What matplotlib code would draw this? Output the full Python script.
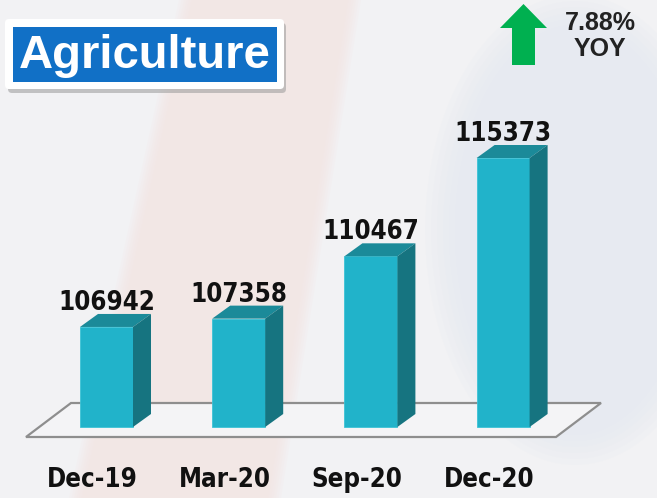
import numpy as np
import matplotlib
matplotlib.use("Agg")
import matplotlib.pyplot as plt
import matplotlib.patches as mpatches

categories = ["Dec-19", "Mar-20", "Sep-20", "Dec-20"]
values = [106942, 107358, 110467, 115373]
title = "Agriculture"
yoy_text = "7.88%\nYOY"

# axis floor implied by the bar heights
axis_floor = 101950
units_per_px = 49.9
px_per_cat = 132.2

front_col = "#21B3CA"
top_col = "#1B8A99"
side_col = "#167480"
bg_col = "#F2F2F4"

W, H = 657, 498
fig = plt.figure(figsize=(W / 100, H / 100), dpi=100, facecolor=bg_col)

# background / decoration layer in pixel coordinates
deco = fig.add_axes([0, 0, 1, 1], zorder=0)
deco.set_xlim(0, W)
deco.set_ylim(H, 0)
deco.axis("off")
deco.set_facecolor(bg_col)

# faint watermark shapes (layered for soft edges)
for k in range(6):
    g = 6 - k * 2.5
    deco.add_patch(mpatches.Polygon([(185 - g, 0), (355 + g, 0), (275 + g, H), (75 - g, H)],
                                    closed=True, fc="#F3E3E0", ec="none", alpha=0.15, zorder=0))
    deco.add_patch(mpatches.Ellipse((575, 230), 300 - k * 12, 470 - k * 12, fc="#E2E7F1",
                                    ec="none", alpha=0.13, zorder=0))

# title box
deco.add_patch(mpatches.FancyBboxPatch((8, 23), 278, 70, boxstyle="round,pad=0,rounding_size=4",
                                       fc="#9A9A9A", ec="none", alpha=0.55, zorder=1))
deco.add_patch(mpatches.FancyBboxPatch((5, 19), 279, 70, boxstyle="round,pad=0,rounding_size=4",
                                       fc="white", ec="none", zorder=2))
deco.add_patch(mpatches.Rectangle((13, 27), 264, 55, fc="#1170C6", ec="none", zorder=3))
deco.text(145, 56, title, color="white", fontsize=34, fontweight="bold",
          family="Liberation Sans", ha="center", va="center", zorder=4)

# green arrow
deco.add_patch(mpatches.Polygon([(512, 65), (535, 65), (535, 28), (547, 28), (523.5, 4),
                                 (500, 28), (512, 28)], closed=True, fc="#00B050", ec="none", zorder=2))
deco.text(600, 36, yoy_text, color="#222222", fontsize=18, fontweight="bold",
          family="Liberation Sans", ha="center", va="center", linespacing=1.1, zorder=2)

# data axes
ax = fig.add_axes([0, 0, 1, 1], zorder=1)
ax.patch.set_alpha(0)
ax.axis("off")
x0_px = 106.5
ax.set_xlim(-x0_px / px_per_cat, (W - x0_px) / px_per_cat)
base_px = 427
ax.set_ylim(axis_floor - (H - base_px) * units_per_px, axis_floor + base_px * units_per_px)

x = np.arange(len(categories))
w = 53 / px_per_cat
dx = 18 / px_per_cat
dy = 13 * units_per_px

# floor
fdx = 45 / px_per_cat
f_front = axis_floor - 10 * units_per_px
f_back = axis_floor + 24 * units_per_px
fl, fr = -80.5 / px_per_cat, 449.5 / px_per_cat
ax.add_patch(mpatches.Polygon([(fl, f_front), (fr, f_front), (fr + fdx, f_back), (fl + fdx, f_back)],
                              closed=True, fc="#F4F4F6", ec="#8E8E8E", lw=1.6, zorder=1))

ax.bar(x, np.array(values) - axis_floor, bottom=axis_floor, width=w, color=front_col,
       edgecolor="#3CC3D6", linewidth=0.6, zorder=3)
for xi, v in zip(x, values):
    l, r = xi - w / 2, xi + w / 2
    ax.add_patch(mpatches.Polygon([(l, v), (r, v), (r + dx, v + dy), (l + dx, v + dy)],
                                  closed=True, fc=top_col, ec="none", zorder=3))
    ax.add_patch(mpatches.Polygon([(r, axis_floor), (r + dx, axis_floor + dy), (r + dx, v + dy), (r, v)],
                                  closed=True, fc=side_col, ec="none", zorder=3))
    ax.text(xi, v + dy + 4 * units_per_px, f"{v}", ha="center", va="baseline", fontsize=18.5,
            fontweight="bold", fontstretch="condensed", color="#111111", zorder=4)
    ax.text(xi - 14 / px_per_cat, axis_floor - 53 * units_per_px, categories[xi], ha="center",
            va="center", fontsize=18.5, fontweight="bold", fontstretch="condensed",
            color="#111111", zorder=4)

fig.savefig("out.png", dpi=100, facecolor=bg_col)
